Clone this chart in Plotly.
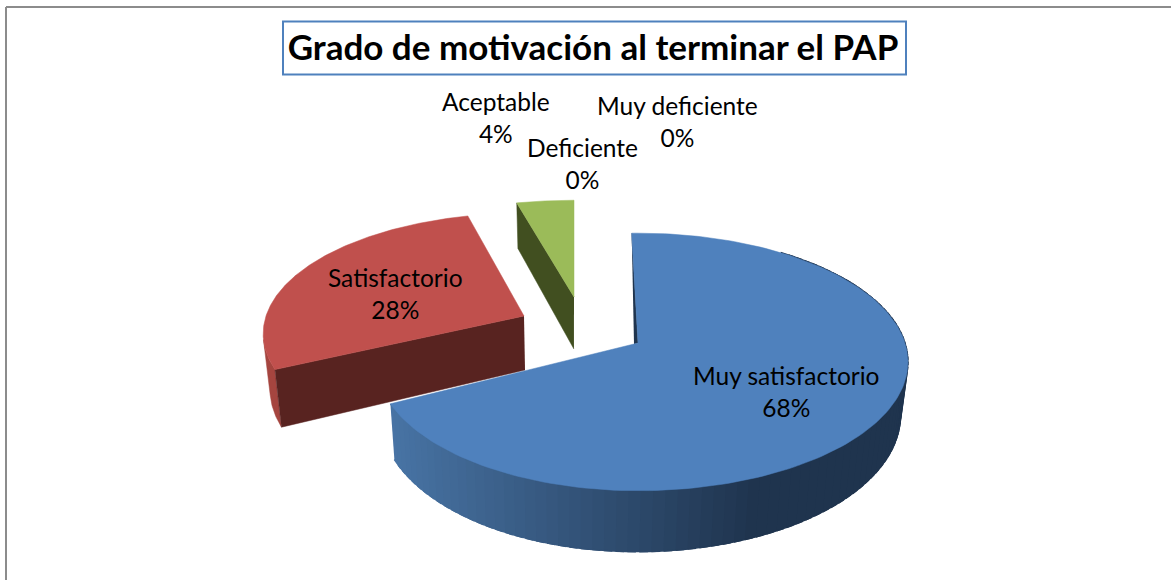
import numpy as np
import plotly.graph_objects as go

# ---- data ----
title = "Grado de motivación al terminar el PAP"
categories = ["Muy satisfactorio", "Satisfactorio", "Aceptable", "Deficiente", "Muy deficiente"]
values = [68, 28, 4, 0, 0]

# ---- look ----
FONT = "Lato, Carlito, Calibri, sans-serif"
TEXT = "#000000"
W, H = 1171, 580
K = 0.147          # perspective strength
VX, VS = 570, 0.978  # convergence of vertical edges
STYLE = {
    "Muy satisfactorio": dict(ax=638, ay=343, bl=259, br=267, a=126, rot=-1.6, depth=52, top="#4f81bd", wall="#1f344e"),
    "Satisfactorio": dict(ax=524, ay=316, bl=258, br=258, a=118, rot=0, depth=54, top="#c0504d", wall="#582320", arc="#a5453f"),
    "Aceptable": dict(ax=574, ay=297, bl=263, br=263, a=111, rot=0, depth=52, top="#9bbb59", wall="#414f20"),
}
LABEL_POS = {
    "Muy satisfactorio": (786, 391.5),
    "Satisfactorio": (395, 293.5),
    "Aceptable": (496, 117.5),
    "Deficiente": (582, 163.5),
    "Muy deficiente": (677, 121.5),
}


def project(st, deg, bottom=False, r=1.0):
    th = np.radians(deg)
    X, Y = r * np.sin(th), -r * np.cos(th)
    d = 1 - K * Y
    b = np.where(X < 0, st["bl"], st["br"])
    x = st["ax"] + b * X / d
    y = st["ay"] + st["a"] * Y / d
    if bottom:
        y = y + st["depth"] / d
        x = VX + (x - VX) * VS
    return x, y


def poly(fig, xs, ys, color, lw=0.5):
    fig.add_trace(go.Scatter(
        x=list(xs), y=list(ys), mode="lines", fill="toself", fillcolor=color,
        line=dict(color=color, width=lw), hoverinfo="skip", showlegend=False,
    ))


def mix(c1, c2, t):
    return "rgb(%d,%d,%d)" % tuple(round(p + (q - p) * t) for p, q in zip(c1, c2))


fig = go.Figure()
total = sum(values)
angle = 0.0
spans = {}
for name, v in zip(categories, values):
    spans[name] = (angle, angle + 360 * v / total)
    angle += 360 * v / total

for name in ["Satisfactorio", "Aceptable", "Muy satisfactorio"]:
    st = STYLE[name]
    a0, a1 = (spans[name][0] + st["rot"], spans[name][1] + st["rot"])
    ang = np.linspace(a0, a1, 181)
    tx, ty = project(st, ang)
    axb, ayb = project(st, 0.0, bottom=True, r=0.0)

    if name == "Muy satisfactorio":
        # curved outer wall, shaded left to right; strips overlap so no seams show
        steps = np.linspace(a1, a0 + 40, 91)
        for s0, s1 in zip(steps[:-1], steps[1:]):
            seg = np.linspace(s0, s1 - 1.5, 4)
            x0, y0 = project(st, seg)
            x1, y1 = project(st, seg, bottom=True)
            t = float(np.clip((x0.mean() - 390) / 370, 0, 1))
            c = mix((72, 116, 165), (31, 52, 78), t)
            poly(fig, list(x0) + list(x1[::-1]), list(y0) + list(y1[::-1]), c, lw=1.5)
        # thin visible part of the inner wall at the first edge
        fx, fy = project(st, a0)
        poly(fig, [fx, st["ax"], st["ax"] - 4], [fy, st["ay"], st["ay"] + 1], st["wall"])
    elif name == "Satisfactorio":
        # outer wall runs up to the silhouette point of the arc
        seg = np.linspace(a0, a0 + 14, 30)
        x0, y0 = project(st, seg)
        x1, y1 = project(st, seg, bottom=True)
        poly(fig, list(x0) + list(x1[::-1]), list(y0) + list(y1[::-1]), st["arc"])
        ex, ey = project(st, a0)
        ebx, eby = project(st, a0, bottom=True)
        poly(fig, [st["ax"], ex, ebx, axb], [st["ay"], ey, eby, ayb], st["wall"])
    else:
        ex, ey = project(st, a0)
        ebx, eby = project(st, a0, bottom=True)
        poly(fig, [st["ax"], ex, ebx, axb], [st["ay"], ey, eby, ayb], st["wall"])

    poly(fig, [st["ax"]] + list(tx) + [st["ax"]], [st["ay"]] + list(ty) + [st["ay"]], st["top"])

annotations = []
for name, v in zip(categories, values):
    lx, ly = LABEL_POS[name]
    annotations.append(dict(
        x=lx, y=ly, xref="x", yref="y", text=f"{name}<br>{v}%", showarrow=False,
        font=dict(family=FONT, size=24.5, color=TEXT), align="center",
    ))

fig.update_layout(
    width=W, height=H, margin=dict(l=0, r=0, t=0, b=0),
    paper_bgcolor="white", plot_bgcolor="white", showlegend=False,
    title=dict(text=f"<b>{title}</b>", x=593 / W, xanchor="center", xref="paper",
               y=1 - 48 / H, yanchor="middle", yref="paper",
               font=dict(family=FONT, size=35, color="#000000")),
    xaxis=dict(range=[0, W], visible=False, fixedrange=True),
    yaxis=dict(range=[H, 0], visible=False, fixedrange=True),
    annotations=annotations,
    shapes=[
        dict(type="rect", x0=283, y0=21.5, x1=906, y1=74.5, line=dict(color="#4f81bd", width=2), fillcolor="rgba(0,0,0,0)"),
        dict(type="line", x0=6, y0=7, x1=W, y1=7, line=dict(color="#8c8c8c", width=2)),
        dict(type="line", x0=6, y0=7, x1=6, y1=H, line=dict(color="#8c8c8c", width=2)),
    ],
)

fig.write_html("out.html", config=dict(displayModeBar=False),
               post_script="document.body.style.margin='0';document.body.style.overflow='hidden';")
